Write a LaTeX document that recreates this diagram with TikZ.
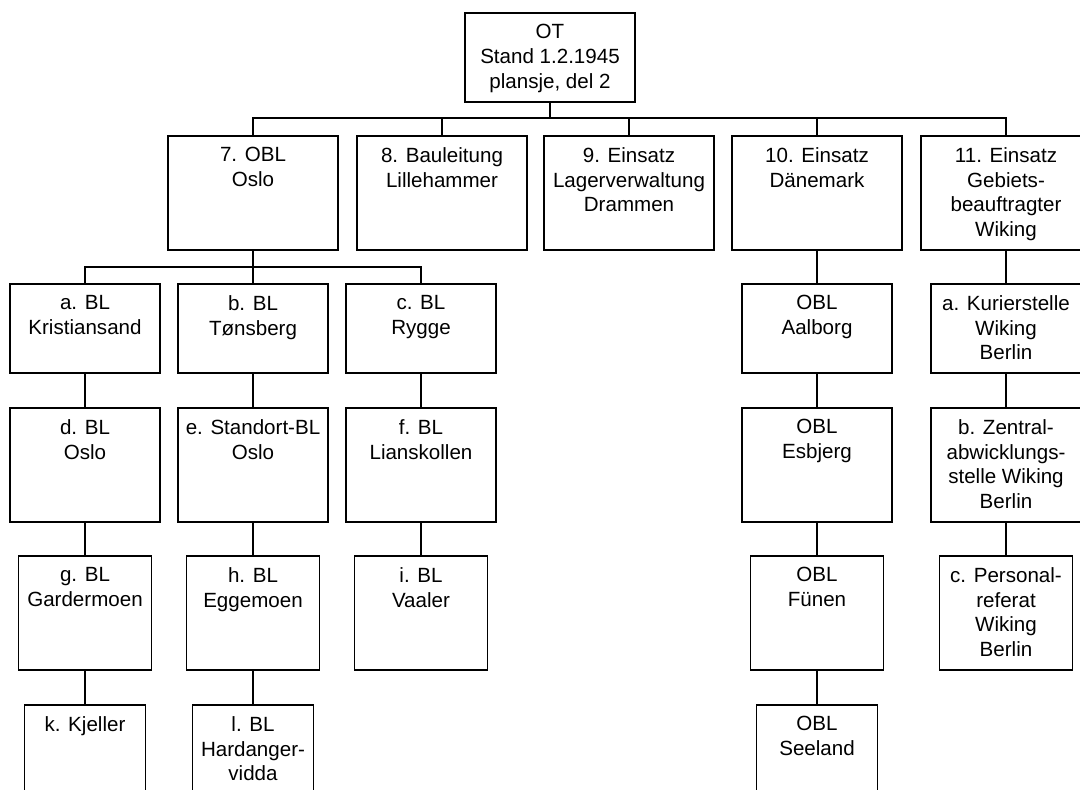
\documentclass[tikz,border=0pt]{standalone}
\usepackage{fontspec}
\setmainfont{Liberation Sans}
\usepackage{tikz}
\usetikzlibrary{positioning, calc}
\newcommand{\unitfont}{\fontsize{11.7}{14.2}\selectfont}

\begin{document}
\begin{tikzpicture}[
    unit/.style={draw, line width=0.7pt, minimum width=3cm, minimum height=2.28cm, inner sep=0pt},
    unitlbl/.style={anchor=north, align=center, inner xsep=0pt, inner ysep=6.5pt, font=\unitfont},
    link/.style={line width=0.7pt}
  ]
  \useasboundingbox (0,0) rectangle (21.6,-15.78);

  % Top
  \node[unit, minimum width=3.4cm, minimum height=1.78cm, label={[unitlbl]north:{OT\\Stand 1.2.1945\\plansje, del 2}}] (ot) at (11.0,-1.15) {};

  % First level
  \node[unit, minimum width=3.4cm, label={[unitlbl]north:{7. OBL\\Oslo}}] (obl7) at (5.06,-3.86) {};
  \node[unit, minimum width=3.4cm, label={[unitlbl]north:{8. Bauleitung\\Lillehammer}}] (bl8) at (8.84,-3.86) {};
  \node[unit, minimum width=3.4cm, label={[unitlbl]north:{9. Einsatz\\Lagerverwaltung\\Drammen}}] (ei9) at (12.58,-3.86) {};
  \node[unit, minimum width=3.4cm, label={[unitlbl]north:{10. Einsatz\\Dänemark}}] (ei10) at (16.34,-3.86) {};
  \node[unit, minimum width=3.4cm, label={[unitlbl]north:{11. Einsatz\\Gebiets-\\beauftragter\\Wiking}}] (ei11) at (20.12,-3.86) {};

  \coordinate (bus1) at (0,-2.36);
  \foreach \n in {obl7, bl8, ei9, ei10, ei11}
    \draw[link] (ot.south) -- (ot.south |- bus1) -| (\n.north);

  % Under 7. OBL
  \node[unit, minimum height=1.78cm, label={[unitlbl]north:{a. BL\\Kristiansand}}] (bla) at (1.70,-6.57) {};
  \node[unit, minimum height=1.78cm, label={[unitlbl]north:{b. BL\\Tønsberg}}] (blb) at (5.06,-6.57) {};
  \node[unit, minimum height=1.78cm, label={[unitlbl]north:{c. BL\\Rygge}}] (blc) at (8.42,-6.57) {};

  \coordinate (bus2) at (0,-5.34);
  \foreach \n in {bla, blb, blc}
    \draw[link] (obl7.south) -- (obl7.south |- bus2) -| (\n.north);

  \node[unit, label={[unitlbl]north:{d. BL\\Oslo}}] (bld) at (1.70,-9.30) {};
  \node[unit, label={[unitlbl]north:{e. Standort-BL\\Oslo}}] (ble) at (5.06,-9.30) {};
  \node[unit, label={[unitlbl]north:{f. BL\\Lianskollen}}] (blf) at (8.42,-9.30) {};

  \node[unit, minimum width=2.66cm, label={[unitlbl]north:{g. BL\\Gardermoen}}] (blg) at (1.70,-12.26) {};
  \node[unit, minimum width=2.66cm, label={[unitlbl]north:{h. BL\\Eggemoen}}] (blh) at (5.06,-12.26) {};
  \node[unit, minimum width=2.66cm, label={[unitlbl]north:{i. BL\\Vaaler}}] (bli) at (8.42,-12.26) {};

  \node[unit, minimum width=2.42cm, label={[unitlbl]north:{k. Kjeller}}] (blk) at (1.70,-15.24) {};
  \node[unit, minimum width=2.42cm, label={[unitlbl]north:{l. BL\\Hardanger-\\vidda}}] (bll) at (5.06,-15.24) {};

  \draw[link] (bla) -- (bld);
  \draw[link] (bld) -- (blg);
  \draw[link] (blg) -- (blk);
  \draw[link] (blb) -- (ble);
  \draw[link] (ble) -- (blh);
  \draw[link] (blh) -- (bll);
  \draw[link] (blc) -- (blf);
  \draw[link] (blf) -- (bli);

  % Under 10. Einsatz
  \node[unit, minimum height=1.78cm, label={[unitlbl]north:{OBL\\Aalborg}}] (aal) at (16.34,-6.57) {};
  \node[unit, label={[unitlbl]north:{OBL\\Esbjerg}}] (esb) at (16.34,-9.30) {};
  \node[unit, minimum width=2.66cm, label={[unitlbl]north:{OBL\\Fünen}}] (fue) at (16.34,-12.26) {};
  \node[unit, minimum width=2.42cm, label={[unitlbl]north:{OBL\\Seeland}}] (see) at (16.34,-15.24) {};

  \draw[link] (ei10) -- (aal);
  \draw[link] (aal) -- (esb);
  \draw[link] (esb) -- (fue);
  \draw[link] (fue) -- (see);

  % Under 11. Einsatz
  \node[unit, minimum height=1.78cm, label={[unitlbl]north:{a. Kurierstelle\\Wiking\\Berlin}}] (wka) at (20.12,-6.57) {};
  \node[unit, label={[unitlbl]north:{b. Zentral-\\abwicklungs-\\stelle Wiking\\Berlin}}] (wkb) at (20.12,-9.30) {};
  \node[unit, minimum width=2.66cm, label={[unitlbl]north:{c. Personal-\\referat\\Wiking\\Berlin}}] (wkc) at (20.12,-12.26) {};

  \draw[link] (ei11) -- (wka);
  \draw[link] (wka) -- (wkb);
  \draw[link] (wkb) -- (wkc);
\end{tikzpicture}
\end{document}
